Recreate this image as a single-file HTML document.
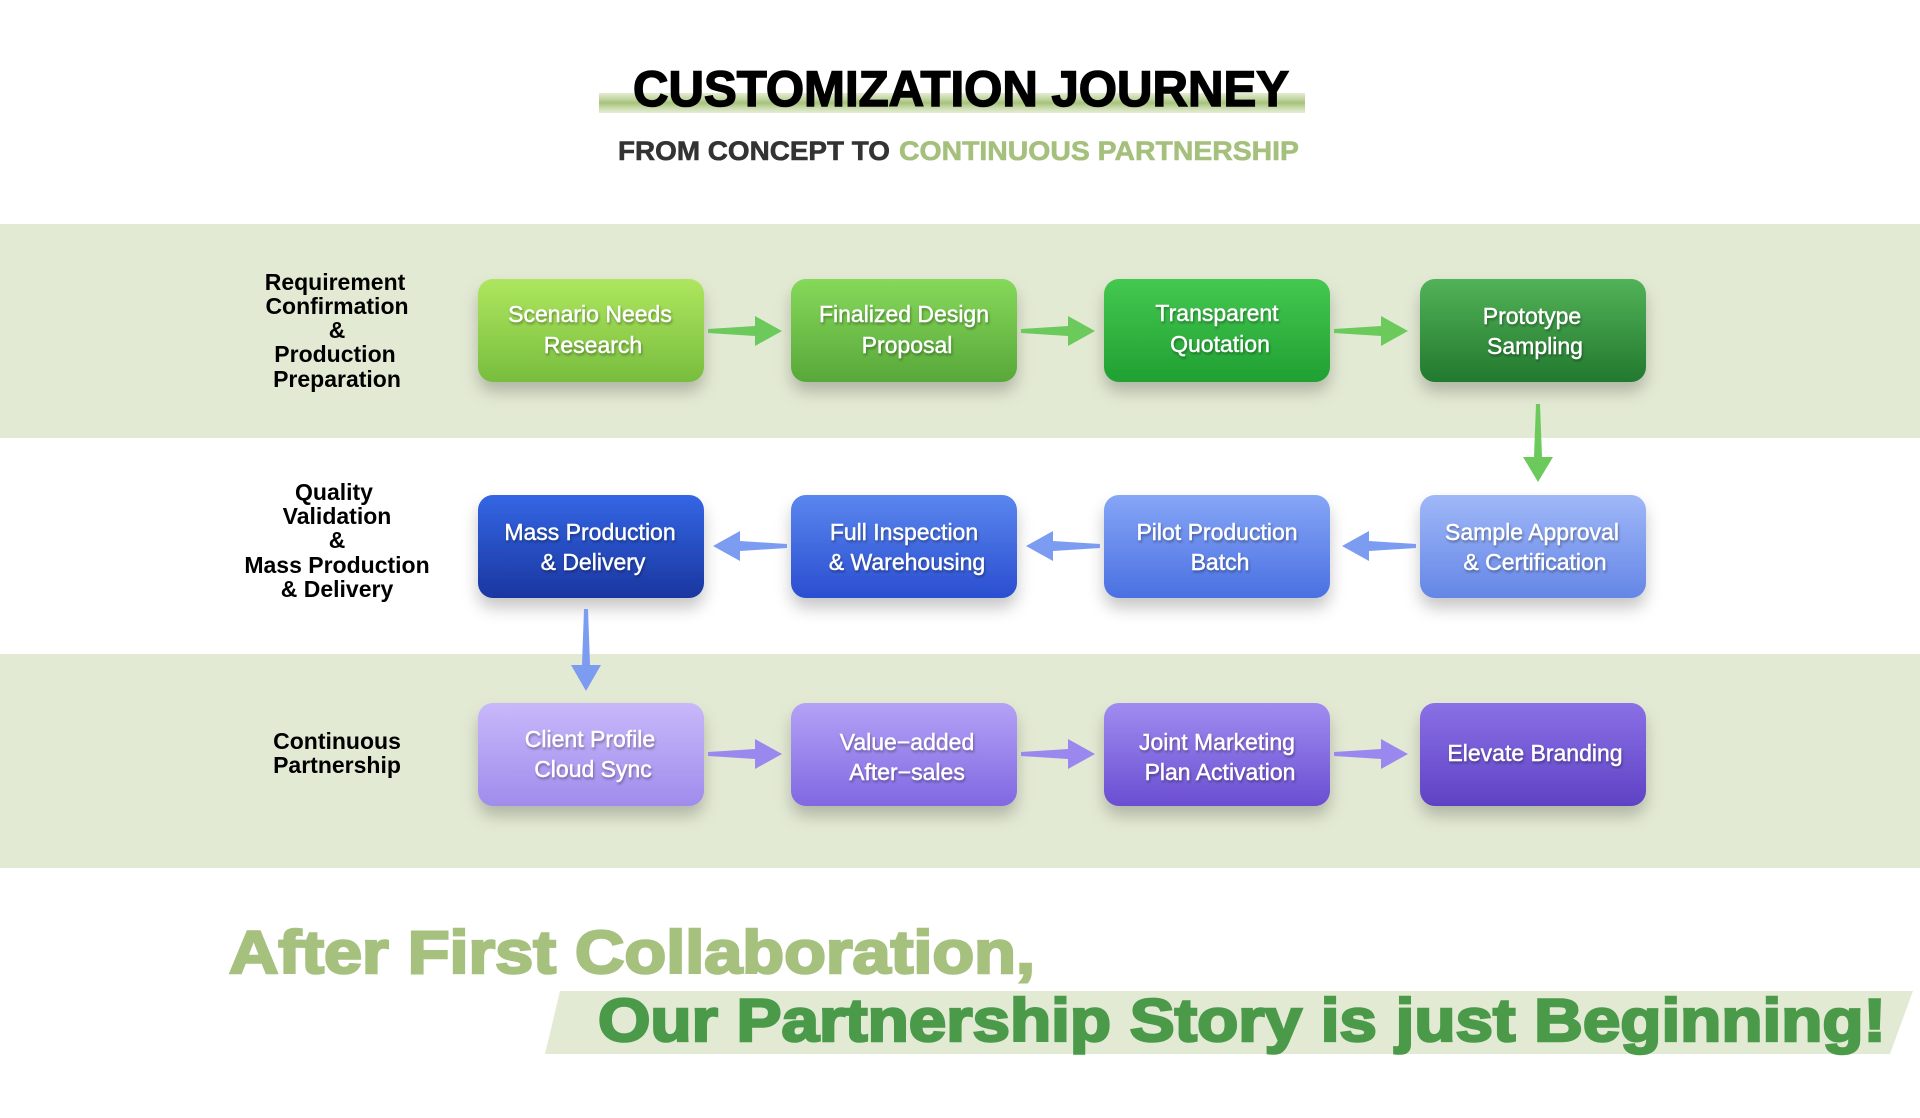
<!DOCTYPE html>
<html><head><meta charset="utf-8"><style>
html,body{margin:0;padding:0;background:#fff;}
svg{display:block;font-family:"Liberation Sans",Arial,sans-serif;}
.bt{fill:#fff;font-size:23px;text-anchor:middle;filter:url(#ts);stroke:#fff;stroke-width:0.4;}
.lb{fill:#000;font-size:23px;font-weight:bold;text-anchor:middle;}
</style></head><body>
<svg width="1920" height="1118" viewBox="0 0 1920 1118" xmlns="http://www.w3.org/2000/svg">
<defs>
<filter id="sh" x="-20%" y="-20%" width="140%" height="160%"><feDropShadow dx="0" dy="10" stdDeviation="8" flood-color="#000" flood-opacity="0.22"/></filter>
<filter id="ts"><feDropShadow dx="1" dy="2" stdDeviation="1.2" flood-color="#000" flood-opacity="0.35"/></filter>
<linearGradient id="g1" x1="0" y1="0" x2="0" y2="1"><stop offset="0" stop-color="#aee65e"/><stop offset="1" stop-color="#78bd3e"/></linearGradient>
<linearGradient id="g2" x1="0" y1="0" x2="0" y2="1"><stop offset="0" stop-color="#86d85a"/><stop offset="1" stop-color="#58a83a"/></linearGradient>
<linearGradient id="g3" x1="0" y1="0" x2="0" y2="1"><stop offset="0" stop-color="#44c850"/><stop offset="1" stop-color="#20a032"/></linearGradient>
<linearGradient id="g4" x1="0" y1="0" x2="0" y2="1"><stop offset="0" stop-color="#52b258"/><stop offset="1" stop-color="#22792e"/></linearGradient>
<linearGradient id="b1" x1="0" y1="0" x2="0" y2="1"><stop offset="0" stop-color="#3466e4"/><stop offset="1" stop-color="#1a36a0"/></linearGradient>
<linearGradient id="b2" x1="0" y1="0" x2="0" y2="1"><stop offset="0" stop-color="#5a86ee"/><stop offset="1" stop-color="#2a4ed0"/></linearGradient>
<linearGradient id="b3" x1="0" y1="0" x2="0" y2="1"><stop offset="0" stop-color="#86a6f6"/><stop offset="1" stop-color="#4a70e2"/></linearGradient>
<linearGradient id="b4" x1="0" y1="0" x2="0" y2="1"><stop offset="0" stop-color="#a0b8f8"/><stop offset="1" stop-color="#6486e6"/></linearGradient>
<linearGradient id="p1" x1="0" y1="0" x2="0" y2="1"><stop offset="0" stop-color="#c8b8fa"/><stop offset="1" stop-color="#a08cec"/></linearGradient>
<linearGradient id="p2" x1="0" y1="0" x2="0" y2="1"><stop offset="0" stop-color="#b4a2f6"/><stop offset="1" stop-color="#8068e2"/></linearGradient>
<linearGradient id="p3" x1="0" y1="0" x2="0" y2="1"><stop offset="0" stop-color="#a08cf0"/><stop offset="1" stop-color="#6a4ed2"/></linearGradient>
<linearGradient id="p4" x1="0" y1="0" x2="0" y2="1"><stop offset="0" stop-color="#8a70e6"/><stop offset="1" stop-color="#5e42c4"/></linearGradient>
<linearGradient id="hl" x1="0" y1="0" x2="0" y2="1"><stop offset="0" stop-color="#b9d08e" stop-opacity="0.4"/><stop offset="0.5" stop-color="#a6c27a"/><stop offset="1" stop-color="#c8dba8" stop-opacity="0.5"/></linearGradient>
</defs>

<rect x="0" y="224" width="1920" height="214" fill="#e3ead4"/>
<rect x="0" y="654" width="1920" height="214" fill="#e3ead4"/>

<rect x="599" y="93" width="706" height="20" fill="url(#hl)"/>
<text x="961" y="106" font-size="50" font-weight="bold" fill="#000" stroke="#000" stroke-width="1.5" text-anchor="middle" textLength="656" lengthAdjust="spacingAndGlyphs">CUSTOMIZATION JOURNEY</text>
<text x="618" y="160" font-size="27" font-weight="bold" fill="#333" stroke="#333" stroke-width="0.6" textLength="272" lengthAdjust="spacingAndGlyphs">FROM CONCEPT TO</text>
<text x="899" y="160" font-size="27" font-weight="bold" fill="#a5c07c" stroke="#a5c07c" stroke-width="0.6" textLength="400" lengthAdjust="spacingAndGlyphs">CONTINUOUS PARTNERSHIP</text>

<text class="lb"><tspan x="335" y="290">Requirement</tspan><tspan x="337" y="314">Confirmation</tspan><tspan x="337" y="338">&amp;</tspan><tspan x="335" y="362">Production</tspan><tspan x="337" y="387">Preparation</tspan></text>
<text class="lb"><tspan x="334" y="500">Quality</tspan><tspan x="337" y="524">Validation</tspan><tspan x="337" y="548">&amp;</tspan><tspan x="337" y="573">Mass Production</tspan><tspan x="337" y="597">&amp; Delivery</tspan></text>
<text class="lb"><tspan x="337" y="749">Continuous</tspan><tspan x="337" y="773">Partnership</tspan></text>

<g filter="url(#sh)">
<rect x="478" y="279" width="226" height="103" rx="15" fill="url(#g1)"/>
<rect x="791" y="279" width="226" height="103" rx="15" fill="url(#g2)"/>
<rect x="1104" y="279" width="226" height="103" rx="15" fill="url(#g3)"/>
<rect x="1420" y="279" width="226" height="103" rx="15" fill="url(#g4)"/>
<rect x="478" y="495" width="226" height="103" rx="15" fill="url(#b1)"/>
<rect x="791" y="495" width="226" height="103" rx="15" fill="url(#b2)"/>
<rect x="1104" y="495" width="226" height="103" rx="15" fill="url(#b3)"/>
<rect x="1420" y="495" width="226" height="103" rx="15" fill="url(#b4)"/>
<rect x="478" y="703" width="226" height="103" rx="15" fill="url(#p1)"/>
<rect x="791" y="703" width="226" height="103" rx="15" fill="url(#p2)"/>
<rect x="1104" y="703" width="226" height="103" rx="15" fill="url(#p3)"/>
<rect x="1420" y="703" width="226" height="103" rx="15" fill="url(#p4)"/>
</g>

<text class="bt"><tspan x="590" y="322">Scenario Needs</tspan><tspan x="593" y="353">Research</tspan></text>
<text class="bt"><tspan x="904" y="322">Finalized Design</tspan><tspan x="907" y="353">Proposal</tspan></text>
<text class="bt"><tspan x="1217" y="321">Transparent</tspan><tspan x="1220" y="352">Quotation</tspan></text>
<text class="bt"><tspan x="1532" y="324">Prototype</tspan><tspan x="1535" y="354">Sampling</tspan></text>
<text class="bt"><tspan x="590" y="540">Mass Production</tspan><tspan x="593" y="570">&amp; Delivery</tspan></text>
<text class="bt"><tspan x="904" y="540">Full Inspection</tspan><tspan x="907" y="570">&amp; Warehousing</tspan></text>
<text class="bt"><tspan x="1217" y="540">Pilot Production</tspan><tspan x="1220" y="570">Batch</tspan></text>
<text class="bt"><tspan x="1532" y="540">Sample Approval</tspan><tspan x="1535" y="570">&amp; Certification</tspan></text>
<text class="bt"><tspan x="590" y="747">Client Profile</tspan><tspan x="593" y="777">Cloud Sync</tspan></text>
<text class="bt"><tspan x="907" y="750">Value−added</tspan><tspan x="907" y="780">After−sales</tspan></text>
<text class="bt"><tspan x="1217" y="750">Joint Marketing</tspan><tspan x="1220" y="780">Plan Activation</tspan></text>
<text class="bt"><tspan x="1535" y="761">Elevate Branding</tspan></text>

<g fill="#6cc95c">
<polygon points="708,329 755,326 755,316 782,331 755,346 755,336 708,333"/>
<polygon points="1021,329 1068,326 1068,316 1095,331 1068,346 1068,336 1021,333"/>
<polygon points="1334,329 1381,326 1381,316 1408,331 1381,346 1381,336 1334,333"/>
<polygon points="1536,404 1540,404 1542,457 1553,457 1538,482 1523,457 1534,457"/>
</g>
<g fill="#7c9cf2">
<polygon points="1416,544 1369,541 1369,531 1342,546 1369,561 1369,551 1416,548"/>
<polygon points="1100,544 1053,541 1053,531 1026,546 1053,561 1053,551 1100,548"/>
<polygon points="787,544 740,541 740,531 713,546 740,561 740,551 787,548"/>
<polygon points="584,609 588,609 590,665 601,665 586,691 571,665 582,665"/>
</g>
<g fill="#9a88ee">
<polygon points="708,752 755,749 755,739 782,754 755,769 755,759 708,756"/>
<polygon points="1021,752 1068,749 1068,739 1095,754 1068,769 1068,759 1021,756"/>
<polygon points="1334,752 1381,749 1381,739 1408,754 1381,769 1381,759 1334,756"/>
</g>

<text x="229" y="973" font-size="60" font-weight="bold" fill="#a6c07e" stroke="#a6c07e" stroke-width="2.5" textLength="806" lengthAdjust="spacingAndGlyphs">After First Collaboration,</text>
<polygon points="560,991 1913,991 1890,1054 545,1054" fill="#e3ead4"/>
<text x="598" y="1041" font-size="60" font-weight="bold" fill="#4a9a4a" stroke="#4a9a4a" stroke-width="2.5" textLength="1288" lengthAdjust="spacingAndGlyphs">Our Partnership Story is just Beginning!</text>
</svg>
</body></html>
